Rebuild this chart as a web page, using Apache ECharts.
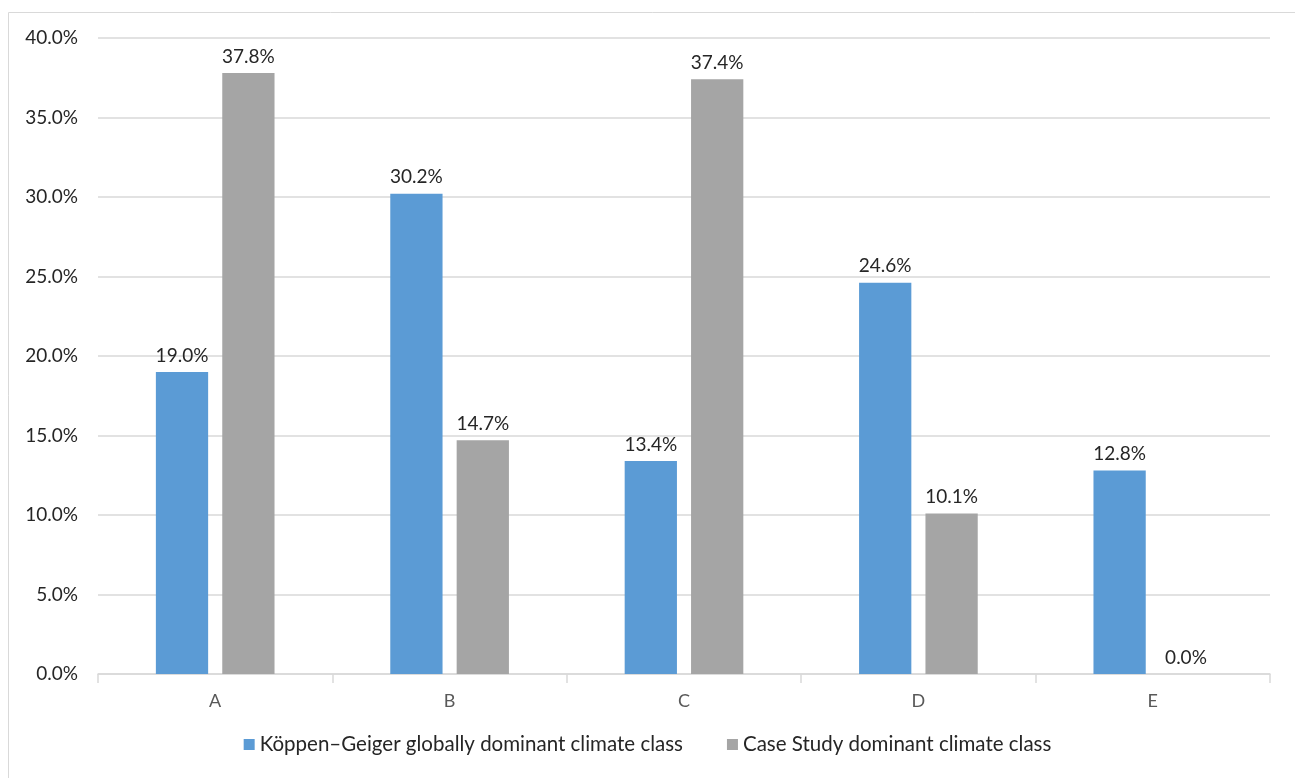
<!DOCTYPE html>
<html><head><meta charset="utf-8">
<script src="https://cdn.jsdelivr.net/npm/echarts@6/dist/echarts.min.js"></script>
<style>html,body{margin:0;padding:0;background:#fff}#c{width:1295px;height:778px}</style>
</head><body><div id="c"></div>
<script>
const categories = ['A','B','C','D','E'];
const koppen = [19.0, 30.2, 13.4, 24.6, 12.8];
const caseStudy = [37.8, 14.7, 37.4, 10.1, 0.0];
const yTicks = [0, 5, 10, 15, 20, 25, 30, 35, 40];
const seriesNames = ['Köppen–Geiger globally dominant climate class', 'Case Study dominant climate class'];

const font = 'Lato, "Open Sans", "Liberation Sans", sans-serif';
const chart = echarts.init(document.getElementById('c'));
const lbl = {show:true, position:'top', distance:7, color:'#262626', fontSize:19, fontFamily:font,
  formatter: p => p.value.toFixed(1) + '%'};
chart.setOption({
  animation:false,
  graphic:[{type:'rect', shape:{x:8.5, y:12.5, width:1400, height:900}, style:{fill:'none', stroke:'#d9d9d9', lineWidth:1}}],
  grid:{left:98, right:25, top:38, bottom:104, containLabel:false},
  legend:{bottom:18, left:'center', itemWidth:11, itemHeight:11, itemGap:44, icon:'rect',
    textStyle:{color:'#262626', fontSize:20.5, fontFamily:font}, data:seriesNames},
  xAxis:{type:'category', data:categories,
    axisLine:{lineStyle:{color:'#d9d9d9', width:1.5}},
    axisTick:{show:true, length:9, lineStyle:{color:'#d9d9d9', width:1.5}},
    axisLabel:{color:'#595959', fontSize:18, fontFamily:font, margin:18}},
  yAxis:{type:'value', min:0, max:40, interval:5,
    axisLine:{show:false}, axisTick:{show:false},
    splitLine:{lineStyle:{color:'#d9d9d9', width:1.5}},
    axisLabel:{color:'#262626', fontSize:19, fontFamily:font, margin:20, formatter: v => v.toFixed(1)+'%'}},
  series:[
    {name:seriesNames[0], type:'bar', data:koppen, barWidth:'22.3%', barGap:'27%', itemStyle:{color:'#5b9bd5'}, label:lbl},
    {name:seriesNames[1], type:'bar', data:caseStudy, barWidth:'22.3%', itemStyle:{color:'#a5a5a5'}, label:lbl}
  ]
});
</script></body></html>
